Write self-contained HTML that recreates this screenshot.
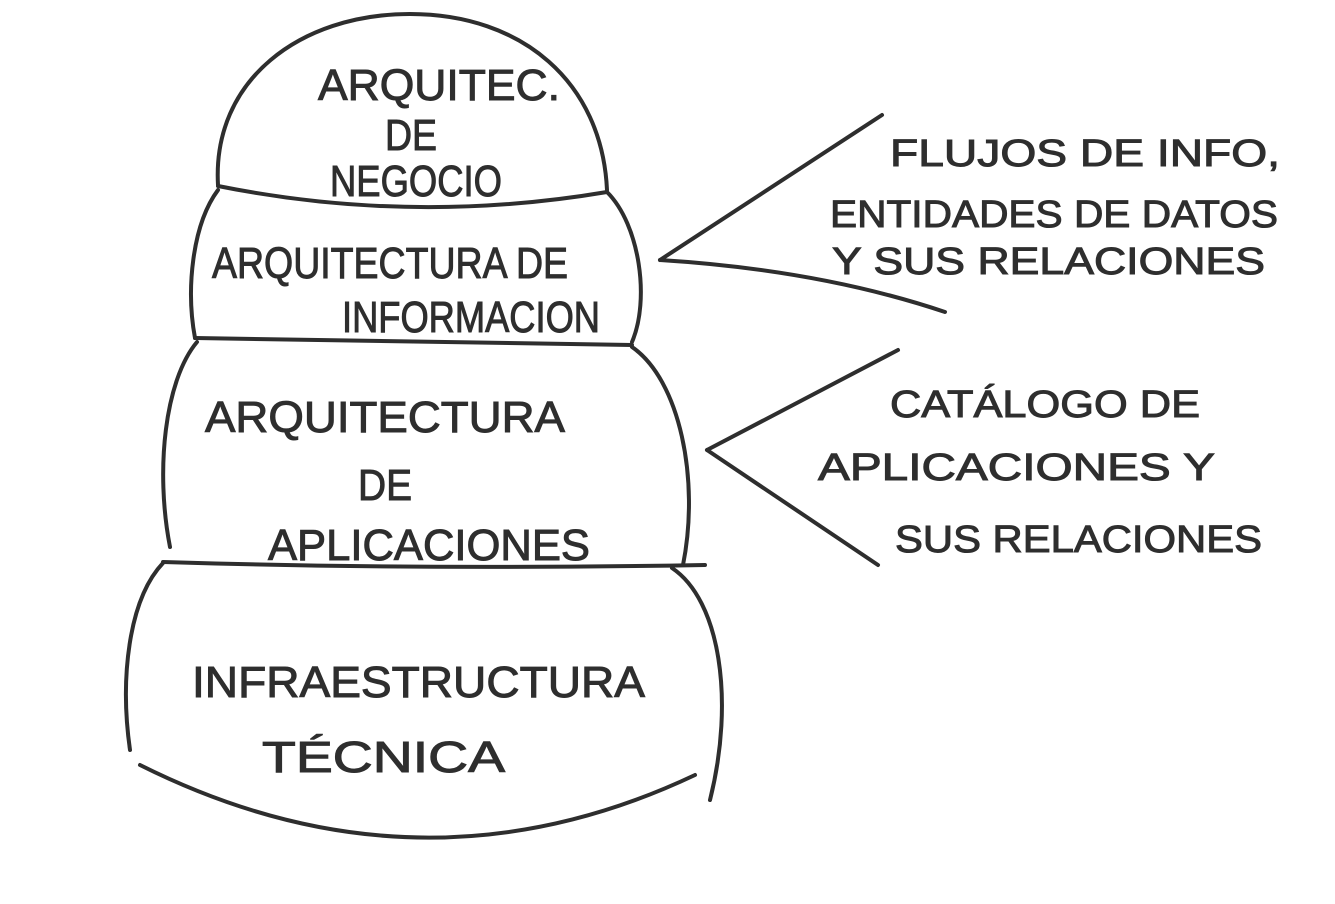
<!DOCTYPE html>
<html><head><meta charset="utf-8"><style>
html,body{margin:0;padding:0;background:#fff;}
svg{display:block;}
text{font-family:"Liberation Sans",sans-serif;fill:#2e2e2e;stroke:#2e2e2e;stroke-width:1;}
</style></head><body>
<svg width="1335" height="904" viewBox="0 0 1335 904" xmlns="http://www.w3.org/2000/svg">
<g fill="none" stroke="#2e2e2e" stroke-width="4" stroke-linecap="round">
<path d="M218,185 C212,80 300,14 410,14 C522,14 602,82 607,190"/>
<path d="M218,186 Q412,225 607,192"/>
<path d="M218,190 C192,225 186,290 195,338"/>
<path d="M607,192 C640,225 650,300 632,342"/>
<path d="M195,338 Q412,342 632,345"/>
<path d="M197,342 C165,380 155,470 170,547"/>
<path d="M632,347 C680,380 700,480 683,565"/>
<path d="M163,562 Q420,570 705,565"/>
<path d="M163,563 C128,600 120,680 130,750"/>
<path d="M672,568 C720,600 735,700 710,800"/>
<path d="M140,765 Q420,905 695,775"/>
<path d="M660,260 L882,115"/>
<path d="M660,260 Q820,270 945,312"/>
<path d="M707,450 L898,350"/>
<path d="M707,450 L878,565"/>
</g>
<g font-size="44">
<text x="318" y="100" textLength="242" lengthAdjust="spacingAndGlyphs">ARQUITEC.</text>
<text x="385" y="150" textLength="52" lengthAdjust="spacingAndGlyphs">DE</text>
<text x="330" y="196" textLength="172" lengthAdjust="spacingAndGlyphs">NEGOCIO</text>
<text x="212" y="278" textLength="356" lengthAdjust="spacingAndGlyphs">ARQUITECTURA DE</text>
<text x="342" y="332" textLength="258" lengthAdjust="spacingAndGlyphs">INFORMACION</text>
<text x="205" y="432" textLength="360" lengthAdjust="spacingAndGlyphs">ARQUITECTURA</text>
<text x="358" y="500" textLength="54" lengthAdjust="spacingAndGlyphs">DE</text>
<text x="268" y="560" textLength="322" lengthAdjust="spacingAndGlyphs">APLICACIONES</text>
<text x="192" y="697" textLength="453" lengthAdjust="spacingAndGlyphs">INFRAESTRUCTURA</text>
<text x="262" y="772" textLength="243" lengthAdjust="spacingAndGlyphs">TÉCNICA</text>
</g>
<g font-size="38">
<text x="890" y="166" textLength="390" lengthAdjust="spacingAndGlyphs">FLUJOS DE INFO,</text>
<text x="830" y="227" textLength="448" lengthAdjust="spacingAndGlyphs">ENTIDADES DE DATOS</text>
<text x="832" y="274" textLength="433" lengthAdjust="spacingAndGlyphs">Y SUS RELACIONES</text>
<text x="890" y="417" textLength="310" lengthAdjust="spacingAndGlyphs">CATÁLOGO DE</text>
<text x="818" y="480" textLength="397" lengthAdjust="spacingAndGlyphs">APLICACIONES Y</text>
<text x="895" y="552" textLength="367" lengthAdjust="spacingAndGlyphs">SUS RELACIONES</text>
</g>
</svg>
</body></html>
